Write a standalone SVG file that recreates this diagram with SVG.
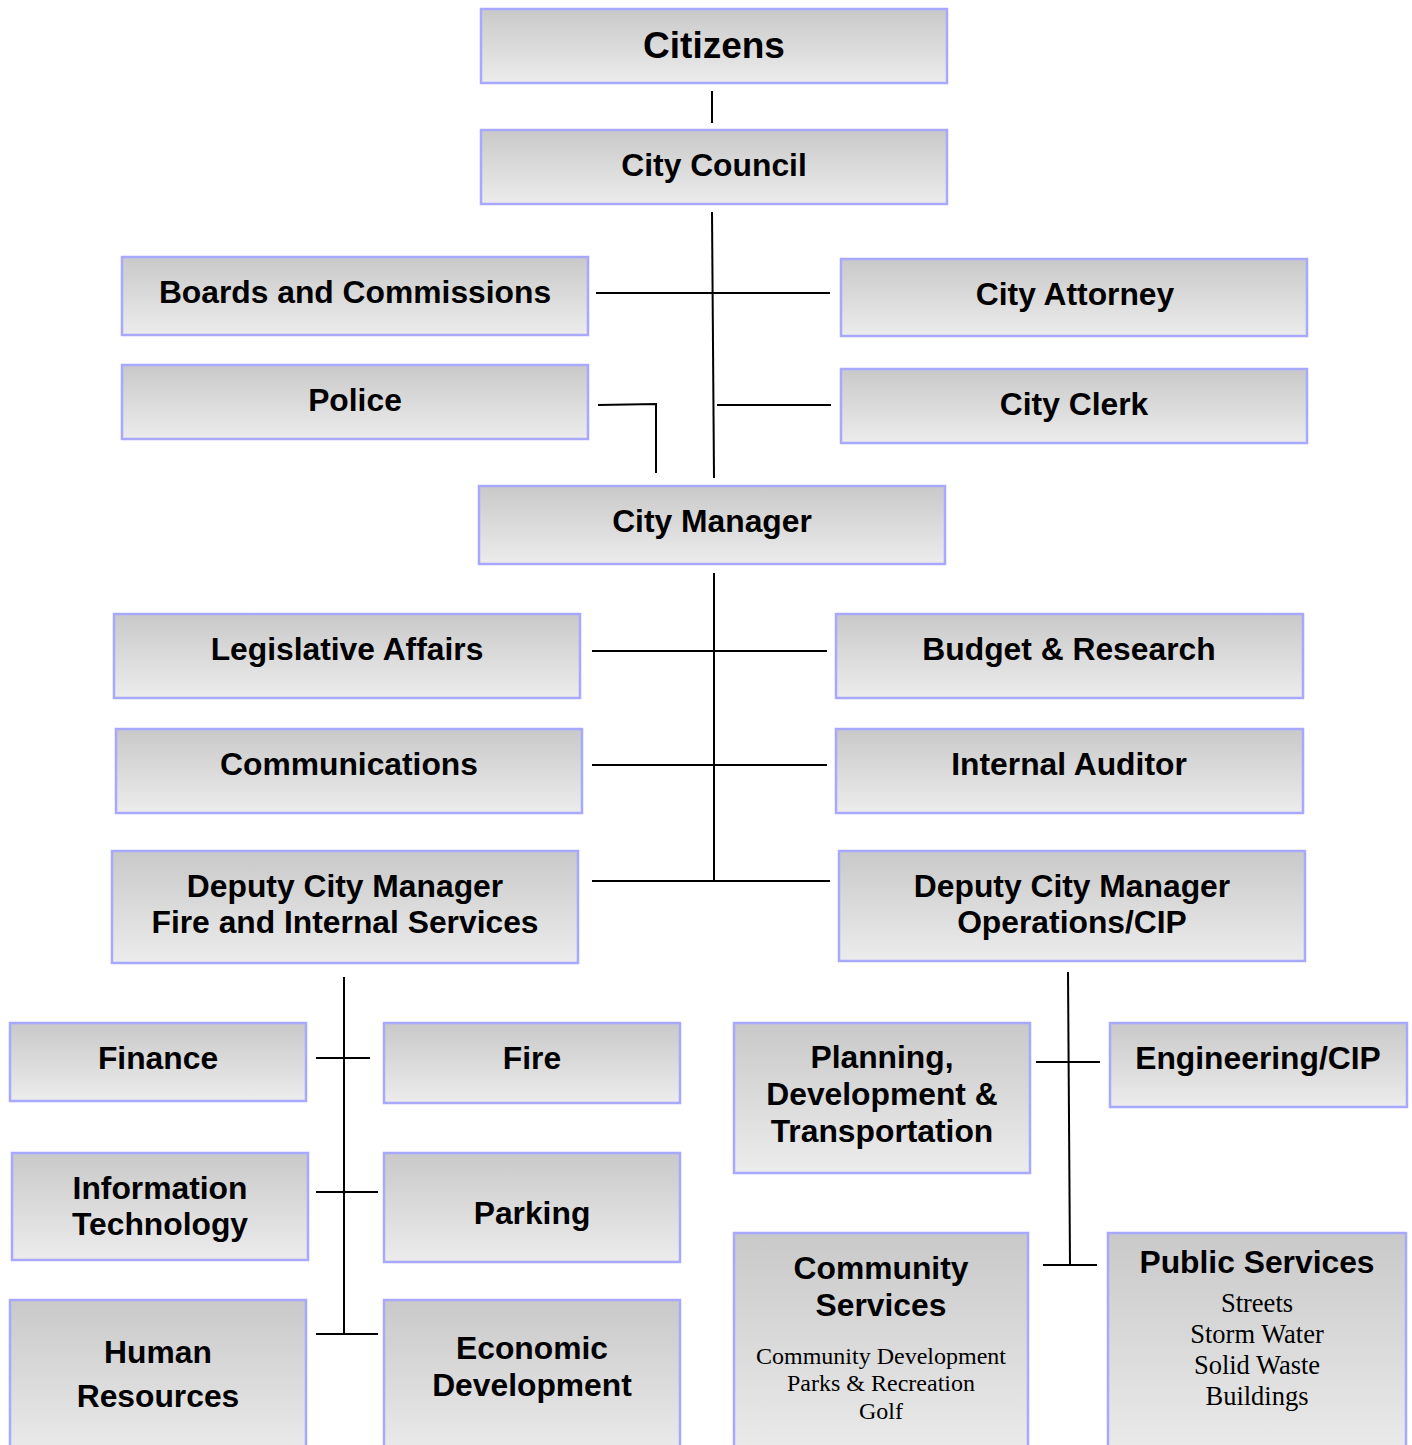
<svg xmlns="http://www.w3.org/2000/svg" width="1412" height="1445" viewBox="0 0 1412 1445">
<defs>
<linearGradient id="g" x1="0" y1="0" x2="0" y2="1">
<stop offset="0" stop-color="#c9c9c9"/>
<stop offset="1" stop-color="#ececec"/>
</linearGradient>
</defs>
<style>
.box{fill:url(#g);stroke:#a8a8ff;stroke-width:2.5}
.t{font-family:"Liberation Sans",Arial,sans-serif;font-weight:bold;font-size:31.8px;fill:#000;text-anchor:middle}
.s{font-family:"Liberation Serif","Times New Roman",serif;font-size:24px;fill:#000;text-anchor:middle}
.s2{font-family:"Liberation Serif","Times New Roman",serif;font-size:26.5px;fill:#000;text-anchor:middle}
.c line,.c polyline{stroke:#000;stroke-width:2;fill:none}
</style>
<rect width="1412" height="1445" fill="#fff"/>
<g class="c" id="connectors">
<line x1="712" y1="91" x2="712" y2="123"/>
<line x1="712" y1="212" x2="714" y2="478"/>
<line x1="596" y1="293" x2="830" y2="293"/>
<polyline points="598,405 656,404 656,473"/>
<line x1="717" y1="405" x2="831" y2="405"/>
<line x1="714" y1="573" x2="714" y2="881"/>
<line x1="592" y1="651" x2="827" y2="651"/>
<line x1="592" y1="765" x2="827" y2="765"/>
<line x1="592" y1="881" x2="830" y2="881"/>
<line x1="344" y1="977" x2="344" y2="1334"/>
<line x1="316" y1="1058" x2="370" y2="1058"/>
<line x1="316" y1="1192" x2="378" y2="1192"/>
<line x1="316" y1="1334" x2="378" y2="1334"/>
<line x1="1068" y1="972" x2="1070" y2="1265"/>
<line x1="1036" y1="1062" x2="1100" y2="1062"/>
<line x1="1043" y1="1265" x2="1097" y2="1265"/>
</g>
<g id="citizens"><rect class="box" x="481" y="9" width="466" height="74"/><text class="t" x="714" y="58" style="font-size:37px">Citizens</text></g>
<g id="city-council"><rect class="box" x="481" y="130" width="466" height="74"/><text class="t" x="714" y="176">City Council</text></g>
<g id="boards"><rect class="box" x="122" y="257" width="466" height="78"/><text class="t" x="355" y="303">Boards and Commissions</text></g>
<g id="city-attorney"><rect class="box" x="841" y="259" width="466" height="77"/><text class="t" x="1075" y="305">City Attorney</text></g>
<g id="police"><rect class="box" x="122" y="365" width="466" height="74"/><text class="t" x="355" y="411">Police</text></g>
<g id="city-clerk"><rect class="box" x="841" y="369" width="466" height="74"/><text class="t" x="1074" y="415">City Clerk</text></g>
<g id="city-manager"><rect class="box" x="479" y="486" width="466" height="78"/><text class="t" x="712" y="532">City Manager</text></g>
<g id="legislative"><rect class="box" x="114" y="614" width="466" height="84"/><text class="t" x="347" y="660">Legislative Affairs</text></g>
<g id="budget"><rect class="box" x="836" y="614" width="467" height="84"/><text class="t" x="1069" y="660">Budget &amp; Research</text></g>
<g id="communications"><rect class="box" x="116" y="729" width="466" height="84"/><text class="t" x="349" y="775">Communications</text></g>
<g id="internal-auditor"><rect class="box" x="836" y="729" width="467" height="84"/><text class="t" x="1069" y="775">Internal Auditor</text></g>
<g id="dcm-fire"><rect class="box" x="112" y="851" width="466" height="112"/><text class="t" x="345" y="897">Deputy City Manager</text><text class="t" x="345" y="933">Fire and Internal Services</text></g>
<g id="dcm-ops"><rect class="box" x="839" y="851" width="466" height="110"/><text class="t" x="1072" y="897">Deputy City Manager</text><text class="t" x="1072" y="933">Operations/CIP</text></g>
<g id="finance"><rect class="box" x="10" y="1023" width="296" height="78"/><text class="t" x="158" y="1069">Finance</text></g>
<g id="fire"><rect class="box" x="384" y="1023" width="296" height="80"/><text class="t" x="532" y="1069">Fire</text></g>
<g id="it"><rect class="box" x="12" y="1153" width="296" height="107"/><text class="t" x="160" y="1199">Information</text><text class="t" x="160" y="1235">Technology</text></g>
<g id="parking"><rect class="box" x="384" y="1153" width="296" height="109"/><text class="t" x="532" y="1224">Parking</text></g>
<g id="hr"><rect class="box" x="10" y="1300" width="296" height="160"/><text class="t" x="158" y="1363">Human</text><text class="t" x="158" y="1407">Resources</text></g>
<g id="econ"><rect class="box" x="384" y="1300" width="296" height="160"/><text class="t" x="532" y="1359">Economic</text><text class="t" x="532" y="1396">Development</text></g>
<g id="planning"><rect class="box" x="734" y="1023" width="296" height="150"/><text class="t" x="882" y="1068">Planning,</text><text class="t" x="882" y="1105">Development &amp;</text><text class="t" x="882" y="1142">Transportation</text></g>
<g id="engineering"><rect class="box" x="1110" y="1023" width="297" height="84"/><text class="t" x="1258" y="1069">Engineering/CIP</text></g>
<g id="community"><rect class="box" x="734" y="1233" width="294" height="230"/><text class="t" x="881" y="1279">Community</text><text class="t" x="881" y="1316">Services</text><text class="s" x="881" y="1364">Community Development</text><text class="s" x="881" y="1391">Parks &amp; Recreation</text><text class="s" x="881" y="1419">Golf</text></g>
<g id="public"><rect class="box" x="1108" y="1233" width="298" height="230"/><text class="t" x="1257" y="1273">Public Services</text><text class="s2" x="1257" y="1312">Streets</text><text class="s2" x="1257" y="1343">Storm Water</text><text class="s2" x="1257" y="1374">Solid Waste</text><text class="s2" x="1257" y="1405">Buildings</text></g>
</svg>
